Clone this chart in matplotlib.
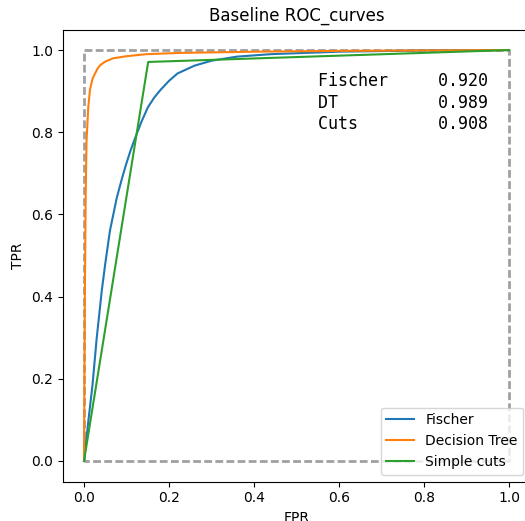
import matplotlib
matplotlib.use("Agg")
import matplotlib.pyplot as plt

fischer_fpr = [0, 0.01, 0.02, 0.03, 0.042, 0.05, 0.061, 0.077, 0.09, 0.1, 0.11, 0.12, 0.135,
               0.15, 0.165, 0.18, 0.2, 0.22, 0.26, 0.3, 0.36, 0.44, 0.6, 0.8, 1.0]
fischer_tpr = [0, 0.095, 0.185, 0.3, 0.416, 0.48, 0.56, 0.64, 0.69, 0.725, 0.757, 0.785, 0.825,
               0.86, 0.884, 0.903, 0.925, 0.943, 0.962, 0.974, 0.984, 0.99, 0.996, 0.999, 1.0]

dt_fpr = [0, 0.001, 0.002, 0.004, 0.006, 0.01, 0.014, 0.02, 0.026, 0.032, 0.038, 0.05, 0.069,
          0.1, 0.147, 0.226, 0.4, 0.6, 1.0]
dt_tpr = [0, 0.2, 0.4, 0.65, 0.78, 0.86, 0.903, 0.93, 0.943, 0.955, 0.963, 0.972, 0.98,
          0.985, 0.99, 0.993, 0.996, 0.998, 1.0]

cuts_fpr = [0, 0.151, 1.0]
cuts_tpr = [0, 0.971, 1.0]

auc_names = ["Fischer", "DT", "Cuts"]
auc_values = [0.920, 0.989, 0.908]

box_x = [0, 0, 1, 1, 0]
box_y = [0, 1, 1, 0, 0]

fig = plt.figure(figsize=(5.25, 5.21), dpi=100)
W, H = 525, 521
left, right, top, bottom = 62.75, 530.25, 29.5, 481.5
ax = fig.add_axes([left / W, (H - bottom) / H, (right - left) / W, (bottom - top) / H])

ax.plot(box_x, box_y, color='grey', alpha=0.75, lw=2, dashes=(2.8, 1.2))
ax.plot(fischer_fpr, fischer_tpr, label='Fischer')
ax.plot(dt_fpr, dt_tpr, label='Decision Tree')
ax.plot(cuts_fpr, cuts_tpr, label='Simple cuts')

txt = "\n".join(f"{n:<12}{v:.3f}" for n, v in zip(auc_names, auc_values))
ax.text(0.55, 0.807, txt, family='DejaVu Sans Mono', fontsize=12, linespacing=1.25)

ax.set_xlim(-0.05, 1.05)
ax.set_ylim(-0.05, 1.05)
ax.set_title("Baseline ROC_curves")
ax.set_xlabel("FPR")
ax.set_ylabel("TPR")
ax.legend(loc='lower right')

fig.savefig("out.png", dpi=100)
